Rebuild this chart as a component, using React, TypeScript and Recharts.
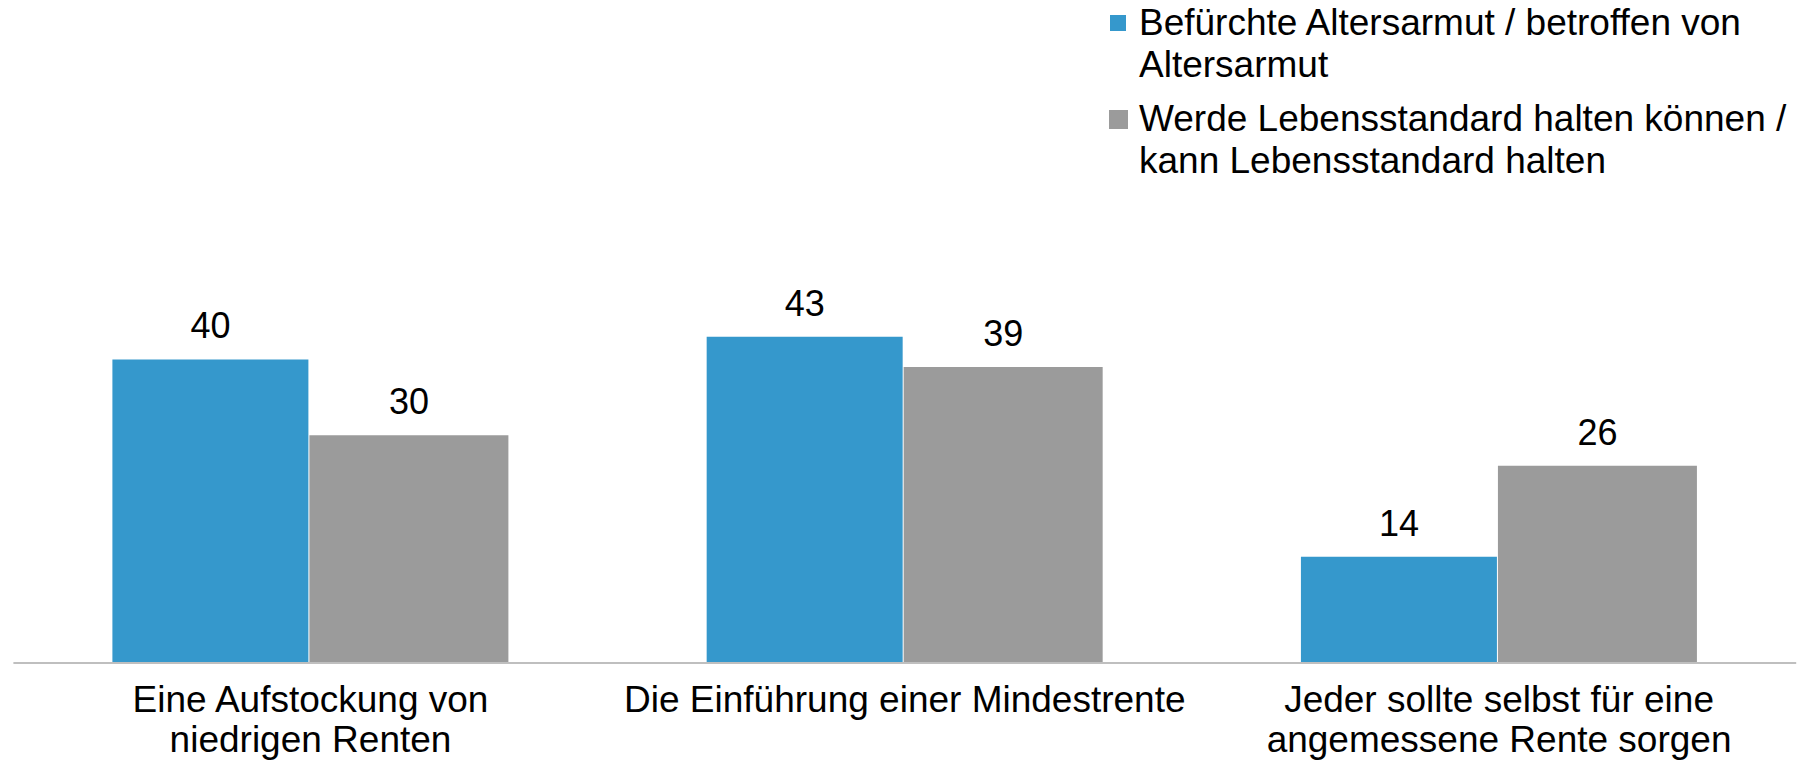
import React from "react";
import { BarChart, Bar, XAxis, YAxis, LabelList } from "recharts";

const categories = [
  "Eine Aufstockung von\nniedrigen Renten",
  "Die Einführung einer Mindestrente",
  "Jeder sollte selbst für eine\nangemessene Rente sorgen",
];
const fearPoverty = [40, 43, 14];
const keepStandard = [30, 39, 26];
const seriesNames = [
  "Befürchte Altersarmut / betroffen von\nAltersarmut",
  "Werde Lebensstandard halten können /\nkann Lebensstandard halten",
];
const seriesColors = ["#3598CC", "#9B9B9B"];

const data = categories.map((c, i) => ({
  category: c,
  fear: fearPoverty[i],
  keep: keepStandard[i],
}));

const FONT = "'Liberation Sans', Arial, Helvetica, sans-serif";

const CategoryTick = (props: any) => {
  const { x, y, payload } = props;
  const lines = String(payload.value).split("\n");
  return (
    <text x={x} y={y} textAnchor="middle" fontFamily={FONT} fontSize={37} fill="#000">
      {lines.map((l, i) => (
        <tspan key={i} x={x} dy={i === 0 ? 49 : 40}>
          {l}
        </tspan>
      ))}
    </text>
  );
};

const legendPos = [
  { top: -6.5, markerLeft: -29, markerTop: 13.5, size: 16 },
  { top: 90, markerLeft: -30, markerTop: 11.5, size: 19 },
];

export default function App() {
  return (
    <div style={{ position: "relative", width: 1799, height: 760, fontFamily: FONT }}>
      <BarChart
        width={1799}
        height={760}
        data={data}
        margin={{ top: 275.5, right: 10.8, left: 5.4, bottom: 0 }}
        barGap={1}
      >
        <YAxis hide domain={[0, 50]} />
        <XAxis
          dataKey="category"
          interval={0}
          tickLine={false}
          tickSize={0}
          tickMargin={0}
          height={105}
          axisLine={{ stroke: "#BFBFBF", strokeWidth: 2 }}
          tick={<CategoryTick />}
        />
        <Bar dataKey="fear" name={seriesNames[0]} fill={seriesColors[0]} barSize={196} isAnimationActive={false}>
          <LabelList dataKey="fear" position="top" offset={21} fontSize={36} fill="#000" fontFamily={FONT} />
        </Bar>
        <Bar dataKey="keep" name={seriesNames[1]} fill={seriesColors[1]} barSize={199} isAnimationActive={false}>
          <LabelList dataKey="keep" position="top" offset={21} fontSize={36} fill="#000" fontFamily={FONT} />
        </Bar>
      </BarChart>
      {seriesNames.map((name, i) => (
        <div
          key={i}
          style={{
            position: "absolute",
            left: 1131,
            top: legendPos[i].top,
            fontSize: 37,
            lineHeight: "42px",
            whiteSpace: "pre",
            color: "#000",
          }}
        >
          <span
            style={{
              position: "absolute",
              left: legendPos[i].markerLeft,
              top: legendPos[i].markerTop,
              width: legendPos[i].size,
              height: legendPos[i].size,
              background: seriesColors[i],
            }}
          />
          {name}
        </div>
      ))}
    </div>
  );
}
